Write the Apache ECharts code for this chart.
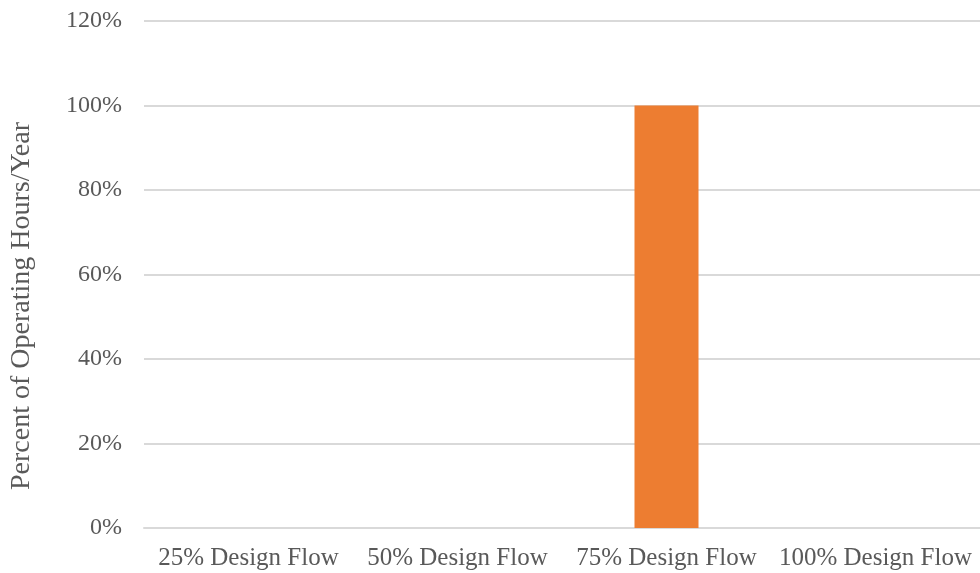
<!DOCTYPE html>
<html>
<head>
<meta charset="utf-8">
<script src="https://cdn.jsdelivr.net/npm/echarts@6/dist/echarts.min.js"></script>
<style>
  html, body { margin: 0; padding: 0; background: #fff; }
  #chart { width: 980px; height: 573px; }
</style>
</head>
<body>
<div id="chart"></div>
<script>
// categories and values
const categories = ['25% Design Flow', '50% Design Flow', '75% Design Flow', '100% Design Flow'];
const hoursShare = [0, 0, 100, 0];
const yTicks = [0, 20, 40, 60, 80, 100, 120];

const chart = echarts.init(document.getElementById('chart'));
const font = "'Liberation Serif', 'Times New Roman', serif";

chart.setOption({
    animation: false,
    grid: { left: 144, right: 0, top: 21, bottom: 45 },
    xAxis: {
        type: 'category',
        data: categories,
        axisTick: { show: false },
        axisLine: { lineStyle: { color: '#D9D9D9', width: 2 } },
        axisLabel: { color: '#595959', fontFamily: font, fontSize: 25, margin: 18, interval: 0 }
    },
    yAxis: {
        type: 'value',
        min: yTicks[0],
        max: yTicks[yTicks.length - 1],
        interval: 20,
        axisLine: { show: false },
        axisTick: { show: false },
        splitLine: { lineStyle: { color: '#D9D9D9', width: 2 } },
        axisLabel: {
            color: '#595959', fontFamily: font, fontSize: 24, margin: 22,
            formatter: v => v + '%'
        }
    },
    graphic: [{
        type: 'text',
        x: 22, y: 306,
        rotation: Math.PI / 2,
        style: {
            text: 'Percent of Operating Hours/Year',
            fill: '#595959',
            font: '28px ' + font,
            align: 'center',
            verticalAlign: 'middle'
        }
    }],
    series: [{
        type: 'bar',
        data: hoursShare,
        barWidth: 64,
        itemStyle: { color: '#ED7D31' }
    }]
});
</script>
</body>
</html>
